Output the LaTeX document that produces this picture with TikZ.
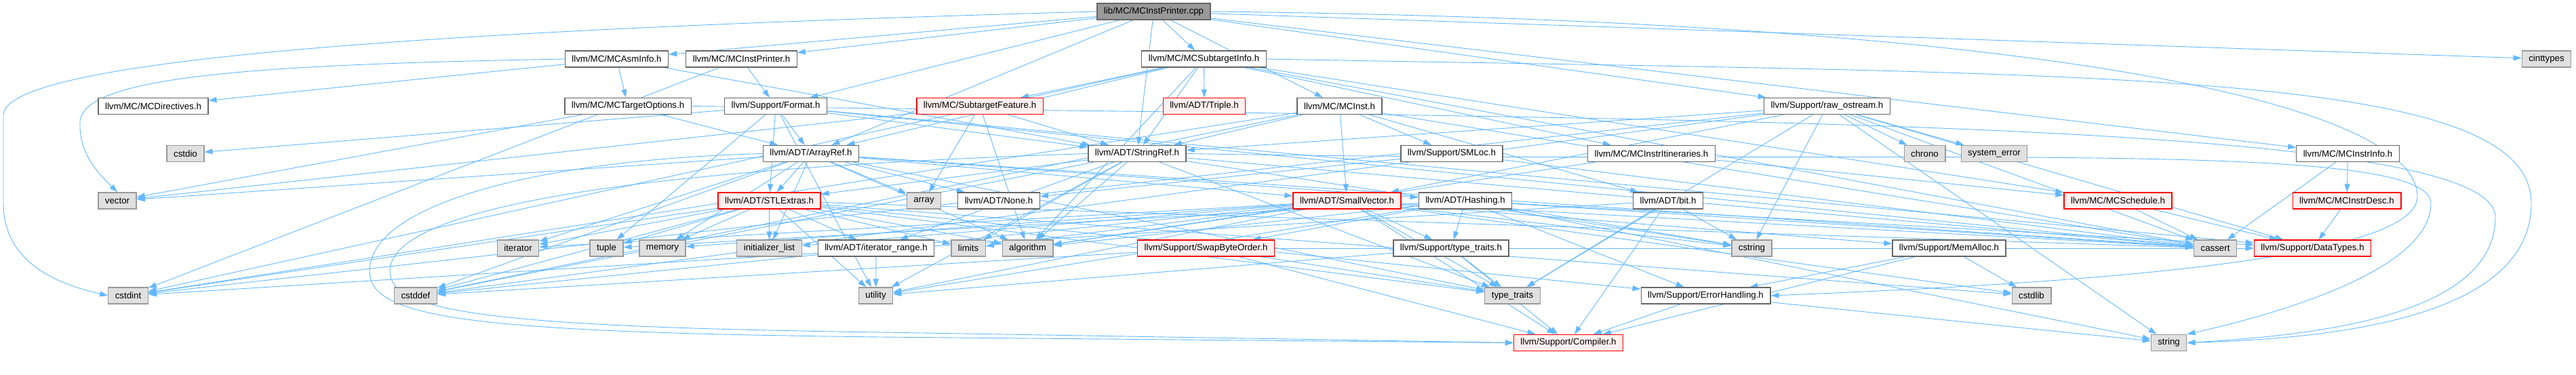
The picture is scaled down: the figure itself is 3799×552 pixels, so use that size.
\documentclass[tikz,border=0pt]{standalone}
\usepackage{fontspec}
\setmainfont{Liberation Sans}
\usetikzlibrary{arrows.meta,backgrounds}
\definecolor{depBlue}{HTML}{63B8FF}
\definecolor{boxGrey}{HTML}{666666}
\definecolor{sysGrey}{HTML}{999999}
\definecolor{sysFill}{HTML}{E0E0E0}
\definecolor{cutRed}{HTML}{FF0000}
\definecolor{cutFill}{HTML}{FFF0F0}

\begin{document}
\begin{tikzpicture}[x=1pt,y=1pt,
 hdr/.style={draw=boxGrey,fill=white,line width=1.3pt,font=\fontsize{13.3}{16}\selectfont,minimum height=24pt,inner xsep=10pt,inner ysep=0pt},
 root/.style={hdr,fill=sysGrey},
 stdhdr/.style={hdr,draw=sysGrey,fill=sysFill},
 trunc/.style={hdr,draw=cutRed,fill=cutFill},
 dep/.style={-{Triangle[length=12pt,width=8pt]},draw=depBlue,line width=0.9pt}
]
\useasboundingbox (0,0) rectangle (3799,-552);

% rank 0 and 1
\node[root] (cpp) at (1701.5,-17) {lib/MC/MCInstPrinter.cpp};
\node[hdr] (asminfo) at (909.5,-87) {llvm/MC/MCAsmInfo.h};
\node[hdr] (printer) at (1093.5,-87) {llvm/MC/MCInstPrinter.h};
\node[hdr] (subinfo) at (1775.5,-87) {llvm/MC/MCSubtargetInfo.h};
\node[stdhdr] (cinttypes) at (3755.5,-87) {cinttypes};

% rank 2
\node[hdr] (directives) at (226,-156.5) {llvm/MC/MCDirectives.h};
\node[hdr] (targetopts) at (926,-156.5) {llvm/MC/MCTargetOptions.h};
\node[hdr] (format) at (1144,-156.5) {llvm/Support/Format.h};
\node[trunc] (subfeat) at (1445,-156.5) {llvm/MC/SubtargetFeature.h};
\node[trunc] (triple) at (1776,-156.5) {llvm/ADT/Triple.h};
\node[hdr] (mcinst) at (1975.5,-156.5) {llvm/MC/MCInst.h};
\node[hdr] (rawos) at (2694.5,-156.5) {llvm/Support/raw\_ostream.h};

% rank 3
\node[stdhdr] (cstdio) at (273.5,-226.5) {cstdio};
\node[hdr] (arrayref) at (1196,-226.5) {llvm/ADT/ArrayRef.h};
\node[hdr] (stringref) at (1677,-226.5) {llvm/ADT/StringRef.h};
\node[hdr] (smloc) at (2141,-226.5) {llvm/Support/SMLoc.h};
\node[hdr] (itins) at (2435.5,-226.5) {llvm/MC/MCInstrItineraries.h};
\node[stdhdr] (chrono) at (2838.5,-226.5) {chrono};
\node[stdhdr] (syserr) at (2941,-226.5) {system\_error};
\node[hdr] (instrinfo) at (3462.5,-226.5) {llvm/MC/MCInstrInfo.h};

% rank 4
\node[stdhdr] (vector) at (173,-296) {vector};
\node[trunc] (stlextras) at (1134.5,-296) {llvm/ADT/STLExtras.h};
\node[stdhdr] (array) at (1362.5,-296) {array};
\node[hdr] (none) at (1473,-296) {llvm/ADT/None.h};
\node[trunc] (smallvec) at (1986.5,-296) {llvm/ADT/SmallVector.h};
\node[hdr] (hashing) at (2161,-296) {llvm/ADT/Hashing.h};
\node[hdr] (bit) at (2460,-296) {llvm/ADT/bit.h};
\node[trunc] (schedule) at (3123.5,-296) {llvm/MC/MCSchedule.h};
\node[trunc] (instrdesc) at (3461,-296) {llvm/MC/MCInstrDesc.h};

% rank 5
\node[stdhdr] (iterator) at (764,-366) {iterator};
\node[stdhdr] (tuple) at (894.5,-366) {tuple};
\node[stdhdr] (memory) at (977,-366) {memory};
\node[stdhdr] (initlist) at (1134.5,-366) {initializer\_list};
\node[hdr] (itrange) at (1292,-366) {llvm/ADT/iterator\_range.h};
\node[stdhdr] (limits) at (1428,-366) {limits};
\node[stdhdr] (algorithm) at (1515.5,-366) {algorithm};
\node[trunc] (swapbyte) at (1778.5,-366) {llvm/Support/SwapByteOrder.h};
\node[hdr] (suptraits) at (2140,-366) {llvm/Support/type\_traits.h};
\node[stdhdr] (cstring) at (2583.5,-366) {cstring};
\node[hdr] (memalloc) at (2874.5,-366) {llvm/Support/MemAlloc.h};
\node[stdhdr] (cassert) at (3267,-366) {cassert};
\node[trunc] (datatypes) at (3410.5,-366) {llvm/Support/DataTypes.h};

% rank 6 and 7
\node[stdhdr] (cstdint) at (189,-436) {cstdint};
\node[stdhdr] (cstddef) at (613,-436) {cstddef};
\node[stdhdr] (utility) at (1291.5,-436) {utility};
\node[stdhdr] (typetraits) at (2230.5,-436) {type\_traits};
\node[hdr] (errhandling) at (2515.5,-436) {llvm/Support/ErrorHandling.h};
\node[stdhdr] (cstdlib) at (2996,-436) {cstdlib};
\node[trunc] (compiler) at (2313,-505.5) {llvm/Support/Compiler.h};
\node[stdhdr] (string) at (3198.5,-505.5) {string};

\begin{scope}[on background layer,every edge/.style={dep}]
\path (cpp) edge (asminfo) edge (printer) edge (subinfo) edge (format) edge (arrayref) edge (stringref) edge (mcinst) edge (rawos) edge (instrinfo) edge (cinttypes);
\draw[dep] (cpp.west) .. controls (600,-45) and (5,-90) .. (5,-170) -- (5,-300) .. controls (5,-390) and (90,-420) .. (cstdint.west);
\draw[dep] (cpp.east) .. controls (3000,-30) and (3565,-150) .. (3565,-290) .. controls (3565,-390) and (3000,-420) .. (errhandling.east);

\path (asminfo) edge (directives) edge (targetopts) edge (stringref);
\draw[dep] (asminfo.west) .. controls (400,-95) and (120,-110) .. (118,-180) .. controls (116,-230) and (150,-260) .. (vector.north);
\path (printer) edge (format) edge (cstdint);
\path (subinfo) edge (subfeat) edge (triple) edge (stringref) edge (arrayref) edge (itins) edge (schedule) edge (algorithm) edge (cassert) edge (cstdint);
\draw[dep] (subinfo.east) .. controls (3100,-110) and (3733,-100) .. (3733,-300) .. controls (3733,-480) and (3400,-500) .. (string.east);
\path (targetopts) edge (arrayref) edge (vector);
\draw[dep] (targetopts.east) .. controls (2500,-175) and (3680,-175) .. (3680,-320) .. controls (3680,-470) and (3400,-495) .. (string.east);

\path (format) edge (arrayref) edge (stlextras) edge (stringref) edge (datatypes) edge (cassert) edge (cstdio) edge (tuple) edge (utility);
\path (subfeat) edge (stringref) edge (array) edge (algorithm) edge (vector);
\path (mcinst) edge (smallvec) edge (stringref) edge (bit) edge (smloc) edge (cassert) edge (cstddef) edge (cstdint);
\path (rawos) edge (smallvec) edge (stringref) edge (datatypes) edge (cassert) edge (chrono) edge (cstddef) edge (cstdint) edge (cstring) edge (string) edge (syserr) edge (typetraits);

\path (arrayref) edge (hashing) edge (none) edge (smallvec) edge (stlextras) edge (algorithm) edge (array) edge (cassert) edge (cstddef) edge (initlist) edge (iterator) edge (memory) edge (typetraits) edge (vector);
\draw[dep] (arrayref.west) .. controls (800,-235) and (545,-300) .. (545,-400) .. controls (545,-470) and (700,-490) .. (1300,-497) -- (compiler.west);
\path (stringref) edge (stlextras) edge (itrange) edge (algorithm) edge (cassert) edge (cstddef) edge (cstring) edge (limits) edge (typetraits) edge (utility);
\draw[dep] (stringref.west) .. controls (900,-250) and (575,-310) .. (575,-400) .. controls (575,-460) and (720,-482) .. (1300,-490) -- (compiler.west);
\draw[dep] (stringref.east) .. controls (2800,-245) and (3585,-200) .. (3585,-300) .. controls (3585,-400) and (3350,-465) .. (string.north east);
\path (smloc) edge (none) edge (cassert);
\path (itins) edge (schedule) edge (algorithm);
\path (instrinfo) edge (instrdesc) edge (cassert);

\path (stlextras) edge (itrange) edge (errhandling) edge (algorithm) edge (cassert) edge (cstddef) edge (cstdint) edge (cstdlib) edge (initlist) edge (iterator) edge (limits) edge (memory) edge (tuple) edge (typetraits) edge (utility);
\path (smallvec) edge (suptraits) edge (compiler) edge (memalloc) edge (algorithm) edge (cassert) edge (cstddef) edge (cstdlib) edge (cstring) edge (initlist) edge (iterator) edge (limits) edge (memory) edge (typetraits) edge (utility);
\path (hashing) edge (datatypes) edge (errhandling) edge (swapbyte) edge (suptraits) edge (algorithm) edge (cassert) edge (cstring) edge (string) edge (tuple) edge (utility);
\path (bit) edge (compiler) edge (cstdint) edge (cstring) edge (typetraits);
\path (schedule) edge (datatypes) edge (cassert);
\path (instrdesc) edge (datatypes);

\path (itrange) edge (utility);
\path (swapbyte) edge (compiler) edge (datatypes) edge (cstddef) edge (typetraits);
\path (suptraits) edge (compiler) edge (typetraits) edge (utility);
\path (memalloc) edge (compiler) edge (errhandling) edge (cstdlib);
\path (errhandling) edge (compiler) edge (string);
\end{scope}
\end{tikzpicture}
\end{document}
